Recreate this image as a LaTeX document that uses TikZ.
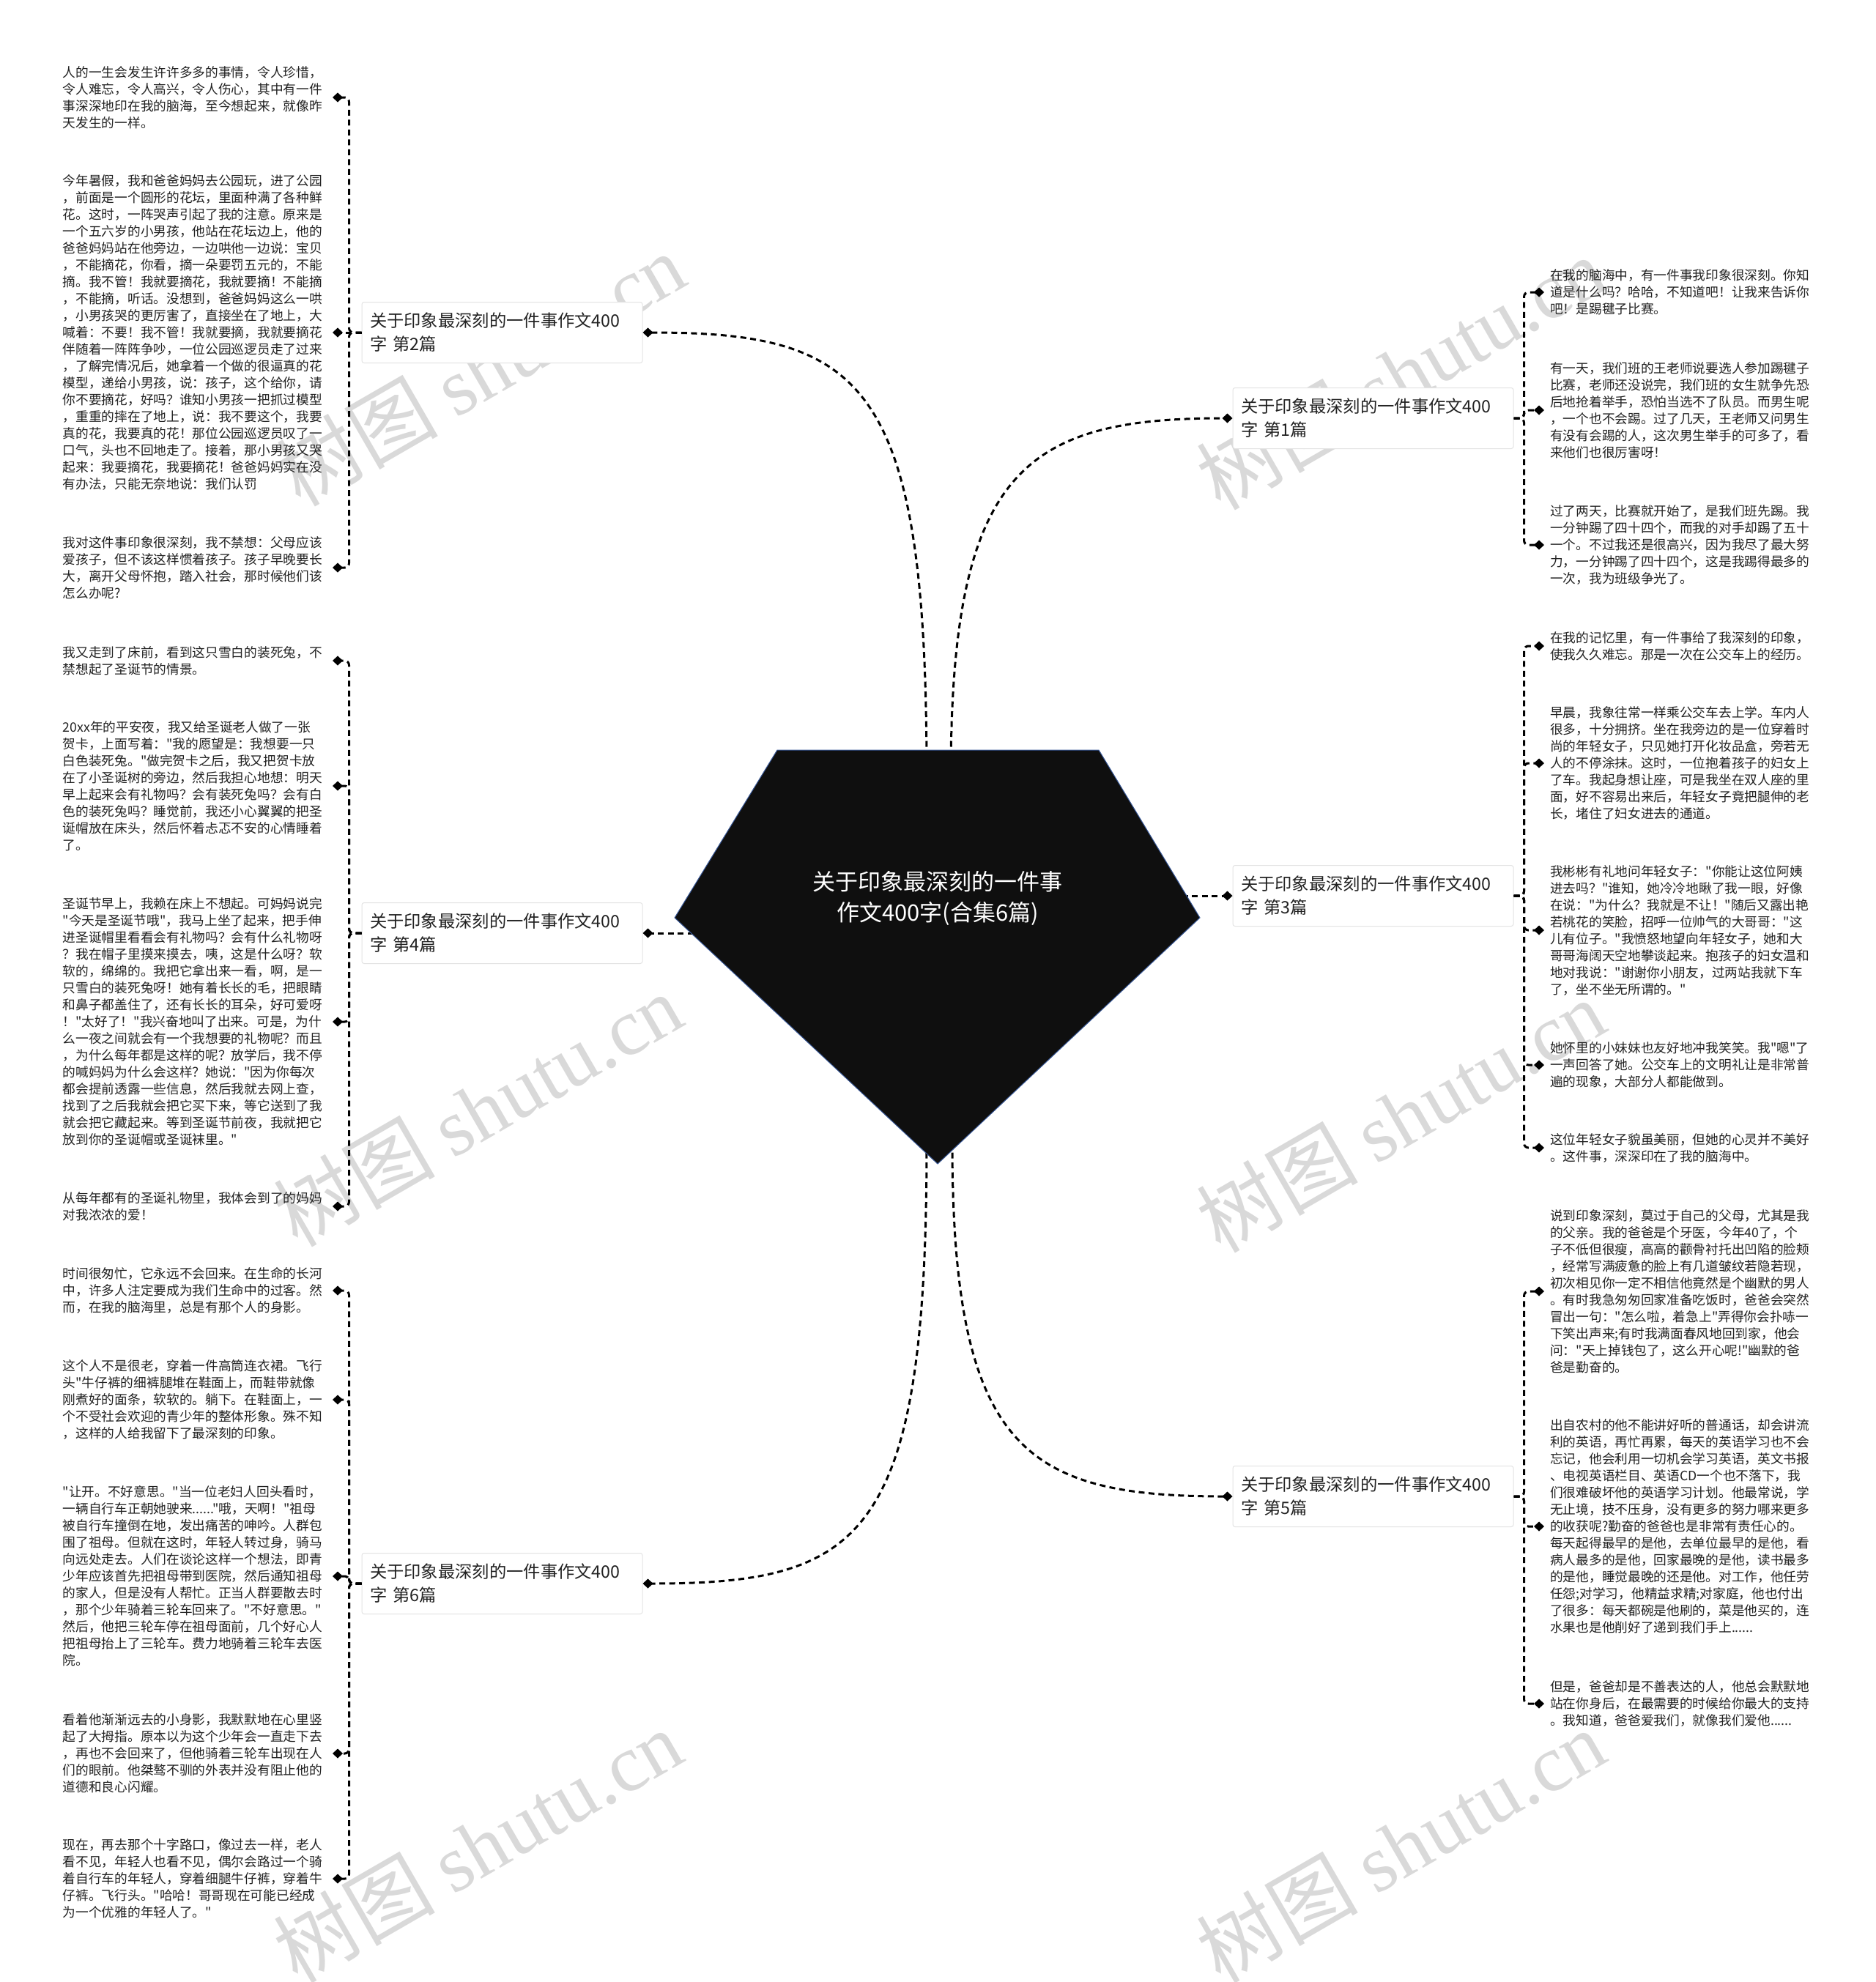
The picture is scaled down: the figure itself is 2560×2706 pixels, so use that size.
\documentclass[tikz,border=0pt]{standalone}
\usepackage{fontspec}
\setmainfont{Noto Sans CJK SC}[Ligatures=TeXOff]
\newfontfamily\wmlatin{Liberation Serif}
\usetikzlibrary{arrows.meta}
\definecolor{wmgray}{HTML}{D9D9D9}
\definecolor{txt}{HTML}{222222}
\definecolor{boxline}{HTML}{E3E3E3}
\definecolor{hub}{HTML}{0F0F0F}
\definecolor{hubline}{HTML}{3A5A9A}
\begin{document}
\begin{tikzpicture}[x=1pt,y=-1pt,
  conn/.style={line width=3pt, dash pattern=on 8pt off 5.5pt, -{Diamond[length=14pt,width=13pt]}},
  trunk/.style={conn, rounded corners=6pt},
  leafL/.style={anchor=east, inner xsep=0pt, inner ysep=2pt, text width=368pt, align=left, text=txt, font=\fontsize{17.7}{23}\selectfont},
  leafR/.style={anchor=west, inner xsep=8pt, inner ysep=2pt, text width=372pt, align=left, text=txt, font=\fontsize{17.7}{23}\selectfont},
  branch/.style={draw=boxline, line width=1pt, fill=white, rounded corners=3pt, minimum width=383pt, minimum height=83pt, text width=361pt, align=left, inner xsep=11pt, text=txt, font=\fontsize{23.3}{32}\selectfont},
  hubtext/.style={text=white, align=center, font=\fontsize{31}{42}\selectfont},
  wmk/.style={text=wmgray, rotate=30, font=\fontsize{110}{120}\selectfont}
]
\fill[white] (0,0) rectangle (2560,2706);
\useasboundingbox (0,0) rectangle (2560,2706);

% watermarks
\node[wmk] (wm1) at (656,504) {树图 {\wmlatin shutu.cn}};
\node[wmk] (wm2) at (1912,509) {树图 {\wmlatin shutu.cn}};
\node[wmk] (wm3) at (652,1515) {树图 {\wmlatin shutu.cn}};
\node[wmk] (wm4) at (1912,1523) {树图 {\wmlatin shutu.cn}};
\node[wmk] (wm5) at (652,2520) {树图 {\wmlatin shutu.cn}};
\node[wmk] (wm6) at (1912,2520) {树图 {\wmlatin shutu.cn}};

% branch nodes
\node[branch] (b2) at (685.5,454) {关于印象最深刻的一件事作文400\\字 第2篇};
\node[branch] (b4) at (685.5,1274) {关于印象最深刻的一件事作文400\\字 第4篇};
\node[branch] (b6) at (685.5,2162) {关于印象最深刻的一件事作文400\\字 第6篇};
\node[branch] (b1) at (1874.5,571) {关于印象最深刻的一件事作文400\\字 第1篇};
\node[branch] (b3) at (1874.5,1223) {关于印象最深刻的一件事作文400\\字 第3篇};
\node[branch] (b5) at (1874.5,2043) {关于印象最深刻的一件事作文400\\字 第5篇};

% left leaves
\node[leafL] (l1) at (454,133) {人的一生会发生许许多多的事情，令人珍惜，\\令人难忘，令人高兴，令人伤心，其中有一件\\事深深地印在我的脑海，至今想起来，就像昨\\天发生的一样。};
\node[leafL] (l2) at (454,454) {今年暑假，我和爸爸妈妈去公园玩，进了公园\\，前面是一个圆形的花坛，里面种满了各种鲜\\花。这时，一阵哭声引起了我的注意。原来是\\一个五六岁的小男孩，他站在花坛边上，他的\\爸爸妈妈站在他旁边，一边哄他一边说：宝贝\\，不能摘花，你看，摘一朵要罚五元的，不能\\摘。我不管！我就要摘花，我就要摘！不能摘\\，不能摘，听话。没想到，爸爸妈妈这么一哄\\，小男孩哭的更厉害了，直接坐在了地上，大\\喊着：不要！我不管！我就要摘，我就要摘花\\伴随着一阵阵争吵，一位公园巡逻员走了过来\\，了解完情况后，她拿着一个做的很逼真的花\\模型，递给小男孩，说：孩子，这个给你，请\\你不要摘花，好吗？谁知小男孩一把抓过模型\\，重重的摔在了地上，说：我不要这个，我要\\真的花，我要真的花！那位公园巡逻员叹了一\\口气，头也不回地走了。接着，那小男孩又哭\\起来：我要摘花，我要摘花！爸爸妈妈实在没\\有办法，只能无奈地说：我们认罚};
\node[leafL] (l3) at (454,775) {我对这件事印象很深刻，我不禁想：父母应该\\爱孩子，但不该这样惯着孩子。孩子早晚要长\\大，离开父母怀抱，踏入社会，那时候他们该\\怎么办呢?};
\node[leafL] (l4) at (454,902) {我又走到了床前，看到这只雪白的装死兔，不\\禁想起了圣诞节的情景。};
\node[leafL] (l5) at (454,1073) {20xx年的平安夜，我又给圣诞老人做了一张\\贺卡，上面写着："我的愿望是：我想要一只\\白色装死兔。"做完贺卡之后，我又把贺卡放\\在了小圣诞树的旁边，然后我担心地想：明天\\早上起来会有礼物吗？会有装死兔吗？会有白\\色的装死兔吗？睡觉前，我还小心翼翼的把圣\\诞帽放在床头，然后怀着忐忑不安的心情睡着\\了。};
\node[leafL] (l6) at (454,1395) {圣诞节早上，我赖在床上不想起。可妈妈说完\\"今天是圣诞节哦"，我马上坐了起来，把手伸\\进圣诞帽里看看会有礼物吗？会有什么礼物呀\\？我在帽子里摸来摸去，咦，这是什么呀？软\\软的，绵绵的。我把它拿出来一看，啊，是一\\只雪白的装死兔呀！她有着长长的毛，把眼睛\\和鼻子都盖住了，还有长长的耳朵，好可爱呀\\！"太好了！"我兴奋地叫了出来。可是，为什\\么一夜之间就会有一个我想要的礼物呢？而且\\，为什么每年都是这样的呢？放学后，我不停\\的喊妈妈为什么会这样？她说："因为你每次\\都会提前透露一些信息，然后我就去网上查，\\找到了之后我就会把它买下来，等它送到了我\\就会把它藏起来。等到圣诞节前夜，我就把它\\放到你的圣诞帽或圣诞袜里。"};
\node[leafL] (l7) at (454,1647) {从每年都有的圣诞礼物里，我体会到了的妈妈\\对我浓浓的爱！};
\node[leafL] (l8) at (454,1762) {时间很匆忙，它永远不会回来。在生命的长河\\中，许多人注定要成为我们生命中的过客。然\\而，在我的脑海里，总是有那个人的身影。};
\node[leafL] (l9) at (454,1911) {这个人不是很老，穿着一件高筒连衣裙。飞行\\头"牛仔裤的细裤腿堆在鞋面上，而鞋带就像\\刚煮好的面条，软软的。躺下。在鞋面上，一\\个不受社会欢迎的青少年的整体形象。殊不知\\，这样的人给我留下了最深刻的印象。};
\node[leafL] (l10) at (454,2152) {"让开。不好意思。"当一位老妇人回头看时，\\一辆自行车正朝她驶来......"哦，天啊！"祖母\\被自行车撞倒在地，发出痛苦的呻吟。人群包\\围了祖母。但就在这时，年轻人转过身，骑马\\向远处走去。人们在谈论这样一个想法，即青\\少年应该首先把祖母带到医院，然后通知祖母\\的家人，但是没有人帮忙。正当人群要散去时\\，那个少年骑着三轮车回来了。"不好意思。"\\然后，他把三轮车停在祖母面前，几个好心人\\把祖母抬上了三轮车。费力地骑着三轮车去医\\院。};
\node[leafL] (l11) at (454,2394) {看着他渐渐远去的小身影，我默默地在心里竖\\起了大拇指。原本以为这个少年会一直走下去\\，再也不会回来了，但他骑着三轮车出现在人\\们的眼前。他桀骜不驯的外表并没有阻止他的\\道德和良心闪耀。};
\node[leafL] (l12) at (454,2565) {现在，再去那个十字路口，像过去一样，老人\\看不见，年轻人也看不见，偶尔会路过一个骑\\着自行车的年轻人，穿着细腿牛仔裤，穿着牛\\仔裤。飞行头。"哈哈！哥哥现在可能已经成\\为一个优雅的年轻人了。"};

% right leaves
\node[leafR] (r1) at (2108,399) {在我的脑海中，有一件事我印象很深刻。你知\\道是什么吗？哈哈，不知道吧！让我来告诉你\\吧！是踢毽子比赛。};
\node[leafR] (r2) at (2108,560) {有一天，我们班的王老师说要选人参加踢毽子\\比赛，老师还没说完，我们班的女生就争先恐\\后地抢着举手，恐怕当选不了队员。而男生呢\\，一个也不会踢。过了几天，王老师又问男生\\有没有会踢的人，这次男生举手的可多了，看\\来他们也很厉害呀！};
\node[leafR] (r3) at (2108,744) {过了两天，比赛就开始了，是我们班先踢。我\\一分钟踢了四十四个，而我的对手却踢了五十\\一个。不过我还是很高兴，因为我尽了最大努\\力，一分钟踢了四十四个，这是我踢得最多的\\一次，我为班级争光了。};
\node[leafR] (r4) at (2108,882) {在我的记忆里，有一件事给了我深刻的印象，\\使我久久难忘。那是一次在公交车上的经历。};
\node[leafR] (r5) at (2108,1042) {早晨，我象往常一样乘公交车去上学。车内人\\很多，十分拥挤。坐在我旁边的是一位穿着时\\尚的年轻女子，只见她打开化妆品盒，旁若无\\人的不停涂抹。这时，一位抱着孩子的妇女上\\了车。我起身想让座，可是我坐在双人座的里\\面，好不容易出来后，年轻女子竟把腿伸的老\\长，堵住了妇女进去的通道。};
\node[leafR] (r6) at (2108,1270) {我彬彬有礼地问年轻女子："你能让这位阿姨\\进去吗？"谁知，她冷冷地瞅了我一眼，好像\\在说："为什么？我就是不让！"随后又露出艳\\若桃花的笑脸，招呼一位帅气的大哥哥："这\\儿有位子。"我愤怒地望向年轻女子，她和大\\哥哥海阔天空地攀谈起来。抱孩子的妇女温和\\地对我说："谢谢你小朋友，过两站我就下车\\了，坐不坐无所谓的。"};
\node[leafR] (r7) at (2108,1454) {她怀里的小妹妹也友好地冲我笑笑。我"嗯"了\\一声回答了她。公交车上的文明礼让是非常普\\遍的现象，大部分人都能做到。};
\node[leafR] (r8) at (2108,1567) {这位年轻女子貌虽美丽，但她的心灵并不美好\\。这件事，深深印在了我的脑海中。};
\node[leafR] (r9) at (2108,1763) {说到印象深刻，莫过于自己的父母，尤其是我\\的父亲。我的爸爸是个牙医，今年40了，个\\子不低但很瘦，高高的颧骨衬托出凹陷的脸颊\\，经常写满疲惫的脸上有几道皱纹若隐若现，\\初次相见你一定不相信他竟然是个幽默的男人\\。有时我急匆匆回家准备吃饭时，爸爸会突然\\冒出一句："怎么啦，着急上"弄得你会扑哧一\\下笑出声来;有时我满面春风地回到家，他会\\问："天上掉钱包了，这么开心呢!"幽默的爸\\爸是勤奋的。};
\node[leafR] (r10) at (2108,2084) {出自农村的他不能讲好听的普通话，却会讲流\\利的英语，再忙再累，每天的英语学习也不会\\忘记，他会利用一切机会学习英语，英文书报\\、电视英语栏目、英语CD一个也不落下，我\\们很难破坏他的英语学习计划。他最常说，学\\无止境，技不压身，没有更多的努力哪来更多\\的收获呢?勤奋的爸爸也是非常有责任心的。\\每天起得最早的是他，去单位最早的是他，看\\病人最多的是他，回家最晚的是他，读书最多\\的是他，睡觉最晚的还是他。对工作，他任劳\\任怨;对学习，他精益求精;对家庭，他也付出\\了很多：每天都碗是他刷的，菜是他买的，连\\水果也是他削好了递到我们手上......};
\node[leafR] (r11) at (2108,2326) {但是，爸爸却是不善表达的人，他总会默默地\\站在你身后，在最需要的时候给你最大的支持\\。我知道，爸爸爱我们，就像我们爱他......};

% branch to leaf connectors (left)
\draw[trunk] (b2.west) -- ++(-17,0) |- (l1.east);
\draw[conn] (b2.west) -- (l2.east);
\draw[trunk] (b2.west) -- ++(-17,0) |- (l3.east);
\draw[trunk] (b4.west) -- ++(-17,0) |- (l4.east);
\draw[trunk] (b4.west) -- ++(-17,0) |- (l5.east);
\draw[trunk] (b4.west) -- ++(-17,0) |- (l6.east);
\draw[trunk] (b4.west) -- ++(-17,0) |- (l7.east);
\draw[trunk] (b6.west) -- ++(-17,0) |- (l8.east);
\draw[trunk] (b6.west) -- ++(-17,0) |- (l9.east);
\draw[trunk] (b6.west) -- ++(-17,0) |- (l10.east);
\draw[trunk] (b6.west) -- ++(-17,0) |- (l11.east);
\draw[trunk] (b6.west) -- ++(-17,0) |- (l12.east);
% branch to leaf connectors (right)
\draw[trunk] (b1.east) -- ++(14,0) |- (r1.west);
\draw[trunk] (b1.east) -- ++(14,0) |- (r2.west);
\draw[trunk] (b1.east) -- ++(14,0) |- (r3.west);
\draw[trunk] (b3.east) -- ++(14,0) |- (r4.west);
\draw[trunk] (b3.east) -- ++(14,0) |- (r5.west);
\draw[trunk] (b3.east) -- ++(14,0) |- (r6.west);
\draw[trunk] (b3.east) -- ++(14,0) |- (r7.west);
\draw[trunk] (b3.east) -- ++(14,0) |- (r8.west);
\draw[trunk] (b5.east) -- ++(14,0) |- (r9.west);
\draw[trunk] (b5.east) -- ++(14,0) |- (r10.west);
\draw[trunk] (b5.east) -- ++(14,0) |- (r11.west);

% hub connection points
\coordinate (htl) at (1265,1060);
\coordinate (htr) at (1298,1060);
\coordinate (hbl) at (1265,1560);
\coordinate (hbr) at (1300,1560);
\coordinate (hml) at (960,1274);
\coordinate (hmr) at (1600,1223);

% hub to branch connectors
\draw[conn] (htl) .. controls (1265,520) and (1180,454) .. (b2.east);
\draw[conn] (hml) -- (b4.east);
\draw[conn] (hbl) .. controls (1265,2100) and (1180,2162) .. (b6.east);
\draw[conn] (htr) .. controls (1298,640) and (1400,571) .. (b1.west);
\draw[conn] (hmr) -- (b3.west);
\draw[conn] (hbr) .. controls (1300,1980) and (1400,2043) .. (b5.west);

% hub
\filldraw[fill=hub, draw=hubline, line width=1pt] (1061,1024) -- (1500,1024) -- (1638,1253) -- (1280,1589) -- (921,1253) -- cycle;
\node[hubtext] (hub) at (1280,1226) {关于印象最深刻的一件事\\作文400字(合集6篇)};
\end{tikzpicture}
\end{document}
